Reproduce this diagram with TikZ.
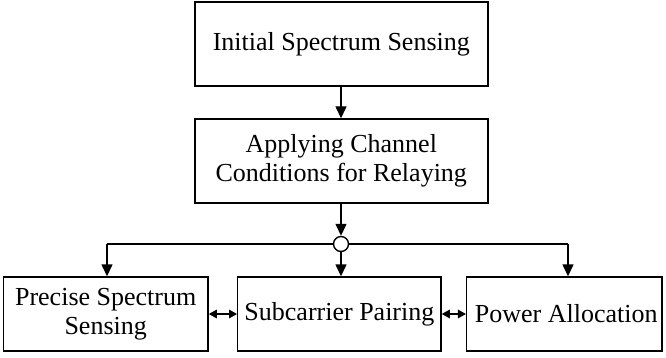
\documentclass[tikz,border=0pt]{standalone}
\usepackage{fontspec}
\setmainfont{Liberation Serif}
\usetikzlibrary{arrows.meta}
\begin{document}
\begin{tikzpicture}[x=1pt,y=-1pt,
  box/.style={draw, line width=1.4pt, inner sep=0pt, align=center,
    font=\fontsize{26}{29}\selectfont},
  conn/.style={line width=1.4pt, -{Triangle[length=12pt,width=11pt]}},
  dbl/.style={line width=1.4pt, {Triangle[length=8pt,width=8.5pt]}-{Triangle[length=8pt,width=8.5pt]}}]
\useasboundingbox (0,0) rectangle (666,358);
\node[box, minimum width=293pt, minimum height=84pt] (top) at (341.3,44) {Initial Spectrum Sensing};
\node[box, minimum width=293pt, minimum height=84pt] (mid) at (341.3,161) {Applying Channel\\Conditions for Relaying};
\node[draw, circle, line width=1.4pt, minimum size=15pt, inner sep=0pt, fill=white] (circ) at (341,244) {};
\node[box, minimum width=204.7pt, minimum height=74pt] (b1) at (105.7,314) {Precise Spectrum\\Sensing};
\node[box, minimum width=203.3pt, minimum height=74pt] (b2) at (339.4,314) {Subcarrier Pairing};
\node[box, minimum width=195.3pt, minimum height=74pt] (b3) at (564.3,314) {\hspace{4pt}Power Allocation};
\coordinate (L) at (107,244);
\coordinate (R) at (568,244);
\draw[conn] (top.south -| circ) -- (mid.north -| circ);
\draw[conn] (mid.south -| circ) -- (circ.north);
\draw[line width=1.4pt] (circ.west) -- (L);
\draw[line width=1.4pt] (circ.east) -- (R);
\draw[conn] (L) -- (L |- b1.north);
\draw[conn] (R) -- (R |- b3.north);
\draw[conn] (circ.south) -- (circ.south |- b2.north);
\draw[dbl] (b1.east) -- (b2.west);
\draw[dbl] (b2.east) -- (b3.west);
\end{tikzpicture}
\end{document}
